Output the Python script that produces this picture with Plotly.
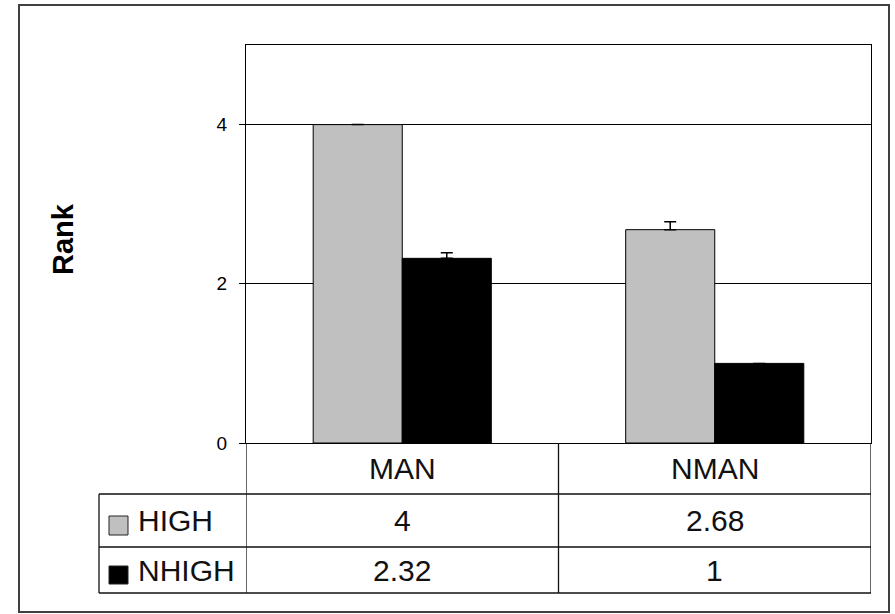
import plotly.graph_objects as go

categories = ["MAN", "NMAN"]
series_names = ["HIGH", "NHIGH"]
high_values = [4, 2.68]
nhigh_values = [2.32, 1]
high_errors = [None, 0.1]
nhigh_errors = [0.07, None]
value_labels_high = ["4", "2.68"]
value_labels_nhigh = ["2.32", "1"]
y_ticks = [0, 2, 4]
y_tick_labels = ["0", "2", "4"]
series_colors = ["#C0C0C0", "#000000"]

W, H = 895, 614
L, R, T, B = 246, 24, 45, 171
pw, ph = W - L - R, H - T - B


def px_x(x):
    return (x - L) / pw


def px_y(y):
    return (H - B - y) / ph


FONT = "Liberation Sans, Arial, sans-serif"

fig = go.Figure()
for name, vals, errs, col in [
    (series_names[0], high_values, high_errors, series_colors[0]),
    (series_names[1], nhigh_values, nhigh_errors, series_colors[1]),
]:
    fig.add_trace(go.Bar(
        x=categories, y=vals, name=name,
        marker=dict(color=col, line=dict(color="black", width=1)),
        error_y=dict(type="data", array=errs, visible=True, symmetric=False,
                     color="black", thickness=1.5, width=6),
    ))

shapes = []
shapes.append(dict(type="rect", xref="paper", yref="paper",
                   x0=px_x(19), x1=px_x(889), y0=px_y(612), y1=px_y(5),
                   line=dict(color="#404040", width=2), layer="below"))

row_lines = [494, 547, 593]
line_style = dict(color="#111111", width=1.3)
for ry in row_lines:
    shapes.append(dict(type="line", xref="paper", yref="paper",
                       x0=px_x(99), x1=1, y0=px_y(ry), y1=px_y(ry), line=line_style))
n = len(categories)
for k in range(n + 1):
    xv = -0.5 + k
    shapes.append(dict(type="line", xref="x", yref="paper",
                       x0=xv, x1=xv, y0=0, y1=px_y(593), line=line_style))
shapes.append(dict(type="line", xref="paper", yref="paper",
                   x0=px_x(99), x1=px_x(99), y0=px_y(494), y1=px_y(593), line=line_style))

key_rows = [(516, 535), (566, 584)]
for (y0, y1), col in zip(key_rows, series_colors):
    shapes.append(dict(type="rect", xref="paper", yref="paper",
                       x0=px_x(109), x1=px_x(128), y0=px_y(y1), y1=px_y(y0),
                       fillcolor=col, line=dict(color="#222222", width=1)))

annotations = []
tfont = dict(family=FONT, size=30, color="#111111")
header_y = px_y((443 + 494) / 2)
row_y = [px_y((494 + 547) / 2), px_y((547 + 593) / 2)]
for c in categories:
    annotations.append(dict(x=c, y=header_y, xref="x", yref="paper", text=c,
                            showarrow=False, font=tfont, xanchor="center", yanchor="middle"))
for labels, ry in [(value_labels_high, row_y[0]), (value_labels_nhigh, row_y[1])]:
    for c, t in zip(categories, labels):
        annotations.append(dict(x=c, y=ry, xref="x", yref="paper", text=t,
                                showarrow=False, font=tfont, xanchor="center", yanchor="middle"))
for name, ry in zip(series_names, row_y):
    annotations.append(dict(x=px_x(136), y=ry, xref="paper", yref="paper", text=name,
                            showarrow=False, font=tfont, xanchor="left", yanchor="middle"))
annotations.append(dict(x=px_x(63), y=px_y(239), xref="paper", yref="paper", text="<b>Rank</b>",
                        textangle=-90, showarrow=False,
                        font=dict(family=FONT, size=29, color="black"),
                        xanchor="center", yanchor="middle"))

fig.update_layout(
    width=W, height=H,
    margin=dict(l=L, r=R, t=T, b=B, pad=0),
    paper_bgcolor="white", plot_bgcolor="white",
    showlegend=False,
    barmode="group", bargap=0.43, bargroupgap=0,
    shapes=shapes, annotations=annotations,
    xaxis=dict(type="category", range=[-0.5, 1.5], showticklabels=False, ticks="",
               showgrid=False, showline=True, linecolor="black", linewidth=1, mirror=True,
               zeroline=False, fixedrange=True),
    yaxis=dict(range=[0, 5], tickvals=y_ticks, ticktext=y_tick_labels,
               ticks="outside", ticklen=6, tickcolor="black", tickwidth=1,
               tickfont=dict(family=FONT, size=19, color="black"),
               showgrid=True, gridcolor="black", gridwidth=1,
               showline=True, linecolor="black", linewidth=1, mirror=True,
               zeroline=False, ticklabelstandoff=8, fixedrange=True),
)

fig.write_html("out.html", config={"displayModeBar": False},
               post_script="document.body.style.margin='0';document.body.style.overflow='hidden';")
